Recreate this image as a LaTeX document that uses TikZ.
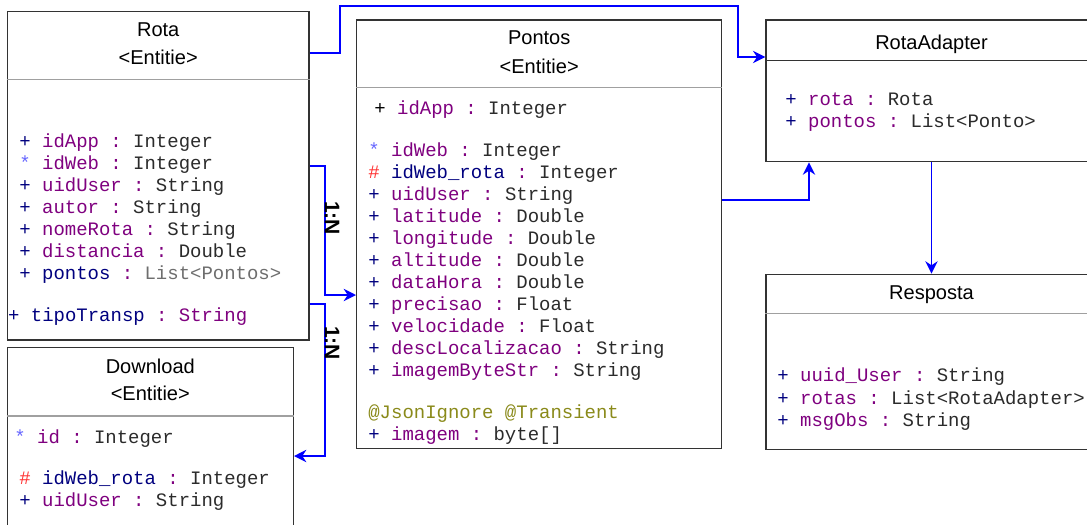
\documentclass[tikz,border=0pt]{standalone}
\usepackage{fontspec}
\setsansfont{Liberation Sans}
\setmonofont{Liberation Mono}
\usetikzlibrary{arrows.meta,calc,fit}

\definecolor{visblue}{HTML}{00007F}
\definecolor{keyblue}{HTML}{6666FF}
\definecolor{fkred}{HTML}{FF3333}
\definecolor{attrpurple}{HTML}{7F007F}
\definecolor{typegray}{HTML}{2B2B2B}
\definecolor{listgray}{HTML}{6E6E6E}
\definecolor{annotolive}{HTML}{8A8A1A}
\definecolor{boxgray}{HTML}{333333}
\definecolor{sepgray}{HTML}{A0A0A0}
\definecolor{linkblue}{HTML}{0000FF}

% one attribute line: symbol, name and type, each with its own colour
\newcommand{\umlattr}[6]{\textcolor{#1}{#2} \textcolor{#3}{#4} \textcolor{attrpurple}{:} \textcolor{#5}{#6}}
\newcommand{\pubattr}[2]{\umlattr{visblue}{+}{attrpurple}{#1}{typegray}{#2}}
\newcommand{\keyattr}[2]{\umlattr{keyblue}{*}{attrpurple}{#1}{typegray}{#2}}
\newcommand{\fkattr}[2]{\umlattr{fkred}{\#}{visblue}{#1}{typegray}{#2}}

\begin{document}
\begin{tikzpicture}[x=0.02cm, y=-0.02cm, >={Stealth[length=7pt,width=7pt]},
        class node/.style={draw=boxgray, line width=0.8pt, fill=white, inner sep=0pt},
        divider/.style={draw=sepgray, line width=0.6pt},
        title/.style={anchor=base, inner sep=0pt, font=\sffamily\fontsize{11.4}{13}\selectfont},
        attr/.style={anchor=base west, inner sep=0pt, font=\ttfamily\fontsize{10.8}{12.5}\selectfont},
        mult/.style={inner sep=0pt, rotate=-90, font=\sffamily\bfseries\fontsize{12}{14}\selectfont},
        link/.style={->, draw=linkblue, line width=1.1pt}]

        \fill[white] (0,0) rectangle (1087,524);
        \useasboundingbox (0,0) rectangle (1087,524);

        % Define classes
        \node[class node, fit={(7.3,11.7) (309,340)}] (rota) {};
        \node[class node, fit={(7.3,347.3) (293.3,530)}] (download) {};
        \node[class node, fit={(356.7,20) (721.7,448.3)}] (pontos) {};
        \node[class node, fit={(766,20) (1097,161.7)}] (adapter) {};
        \node[class node, fit={(766,274.3) (1097,449.3)}] (resposta) {};

        \draw[divider] (rota.west |- 0,79.3) -- (rota.east |- 0,79.3);
        \draw[divider] (download.west |- 0,416) -- (download.east |- 0,416);
        \draw[divider] (pontos.west |- 0,87.3) -- (pontos.east |- 0,87.3);
        \draw[boxgray, line width=0.8pt] (adapter.west |- 0,60.7) -- (adapter.east |- 0,60.7);
        \draw[divider] (resposta.west |- 0,313.3) -- (resposta.east |- 0,313.3);

        % Class names
        \node[title] (rota-name) at (158.2,36.5) {Rota};
        \node[title] (rota-kind) at (158.2,64.5) {<Entitie>};
        \node[title] (download-name) at (150.3,373) {Download};
        \node[title] (download-kind) at (150.3,400.5) {<Entitie>};
        \node[title] (pontos-name) at (539.2,44) {Pontos};
        \node[title] (pontos-kind) at (539.2,73) {<Entitie>};
        \node[title] (adapter-name) at (931.5,49) {RotaAdapter};
        \node[title] (resposta-name) at (931.5,299.5) {Resposta};

        % Attributes
        \foreach \attrtext [count=\i from 0] in {{\pubattr{idApp}{Integer}},
                {\keyattr{idWeb}{Integer}}, {\pubattr{uidUser}{String}},
                {\pubattr{autor}{String}}, {\pubattr{nomeRota}{String}},
                {\pubattr{distancia}{Double}},
                {\umlattr{visblue}{+}{visblue}{pontos}{listgray}{List<Pontos>}}}
            \node[attr] (rota-attr-\i) at (19,147+22*\i) {\attrtext};
        \node[attr] (rota-transp) at (7.8,321)
            {\umlattr{visblue}{+}{visblue}{tipoTransp}{attrpurple}{String}};

        \node[attr] (download-id) at (14,443) {\keyattr{id}{Integer}};
        \node[attr] (download-rota) at (19,484.5) {\fkattr{idWeb\_rota}{Integer}};
        \node[attr] (download-user) at (19,506.5) {\pubattr{uidUser}{String}};

        \node[attr] (pontos-app) at (374,114)
            {\umlattr{black}{+}{attrpurple}{idApp}{typegray}{Integer}};
        \foreach \attrtext [count=\i from 0] in {{\keyattr{idWeb}{Integer}},
                {\fkattr{idWeb\_rota}{Integer}}, {\pubattr{uidUser}{String}},
                {\pubattr{latitude}{Double}}, {\pubattr{longitude}{Double}},
                {\pubattr{altitude}{Double}}, {\pubattr{dataHora}{Double}},
                {\pubattr{precisao}{Float}}, {\pubattr{velocidade}{Float}},
                {\pubattr{descLocalizacao}{String}}, {\pubattr{imagemByteStr}{String}}}
            \node[attr] (pontos-attr-\i) at (368,156+22*\i) {\attrtext};
        \node[attr] (pontos-annot) at (368,418) {\textcolor{annotolive}{@JsonIgnore @Transient}};
        \node[attr] (pontos-img) at (368,440) {\pubattr{imagem}{byte[]}};

        \node[attr] (adapter-rota) at (785,105) {\pubattr{rota}{Rota}};
        \node[attr] (adapter-pontos) at (785,127) {\pubattr{pontos}{List<Ponto>}};

        \node[attr] (resposta-user) at (777,381.5) {\pubattr{uuid\_User}{String}};
        \node[attr] (resposta-rotas) at (777,404) {\pubattr{rotas}{List<RotaAdapter>}};
        \node[attr] (resposta-obs) at (777,426) {\pubattr{msgObs}{String}};

        % Draw links
        \draw[link] (rota.east |- 0,53) -| (340,6) -| (738,57) -- (adapter.west |- 0,57);
        \draw[link] (rota.east |- 0,166) -| (325,295) -- (pontos.west |- 0,295);
        \draw[link] (rota.east |- 0,304) -| (325,456) -- (download.east |- 0,456);
        \draw[link] (pontos.east |- 0,200) -| (adapter.south -| 809,0);
        \draw[link] (adapter.south) -- (resposta.north);

        \node[mult] (mult-pontos) at (332,218) {1:N};
        \node[mult] (mult-download) at (332,343) {1:N};

\end{tikzpicture}
\end{document}
